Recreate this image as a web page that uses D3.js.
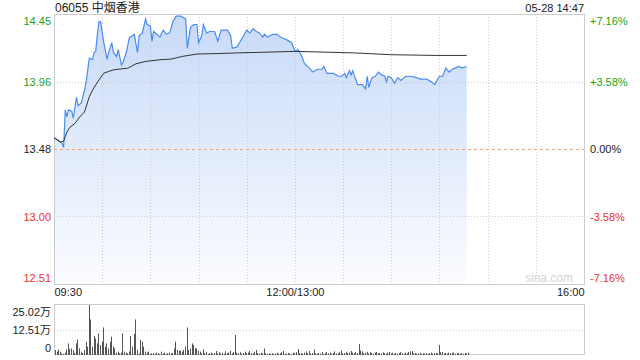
<!DOCTYPE html>
<html>
<head>
<meta charset="utf-8">
<script src="https://cdn.jsdelivr.net/npm/d3@7"></script>
<style>
  body { margin: 0; background: #fff; }
  svg text { font-family: Arial, "Liberation Sans", "Noto Sans CJK SC", sans-serif; }
</style>
</head>
<body>
<svg id="chart"></svg>
<script>
// 06055 中烟香港 intraday, 05-28
const title = '06055 中烟香港';
const stamp = '05-28 14:47';
const prevClose = 13.48;
const maxPct = 0.0716;

const priceTicks = [12.51, 13.00, 13.48, 13.96, 14.45];
const pctTicks = ['-7.16%', '-3.58%', '0.00%', '+3.58%', '+7.16%'];
const timeTicks = [0, 150, 330];
const timeLabels = ['09:30', '12:00/13:00', '16:00'];
const volTicks = [0, 12.51, 25.02];

// price line points (time, price)
const priceTimes = [
  '09:30', '09:33', '09:35', '09:36', '09:37', '09:38', '09:39', '09:41', '09:42', '09:44',
  '09:45', '09:47', '09:49', '09:50', '09:52', '09:54', '09:55', '09:56', '09:57', '09:58',
  '09:59', '10:01', '10:03', '10:04', '10:06', '10:07', '10:09', '10:10', '10:12', '10:13',
  '10:15', '10:17', '10:19', '10:20', '10:22', '10:23', '10:25', '10:27', '10:28', '10:30',
  '10:31', '10:32', '10:34', '10:36', '10:38', '10:40', '10:42', '10:44', '10:46', '10:49',
  '10:52', '10:53', '10:55', '10:57', '10:59', '11:00', '11:02', '11:03', '11:05', '11:07',
  '11:10', '11:12', '11:14', '11:18', '11:20', '11:21', '11:24', '11:26', '11:28', '11:30',
  '11:32', '11:34', '11:36', '11:38', '11:40', '11:41', '11:43', '11:46', '11:49', '11:51',
  '11:53', '11:55', '11:58', '12:00', '13:02', '13:04', '13:06', '13:09', '13:11', '13:14',
  '13:17', '13:18', '13:20', '13:24', '13:27', '13:29', '13:31', '13:32', '13:34', '13:35',
  '13:36', '13:39', '13:42', '13:44', '13:45', '13:46', '13:48', '13:50', '13:52', '13:54',
  '13:56', '13:57', '13:58', '14:00', '14:02', '14:04', '14:06', '14:09', '14:12', '14:16',
  '14:18', '14:22', '14:25', '14:27', '14:28', '14:30', '14:32', '14:34', '14:36', '14:38',
  '14:40', '14:42', '14:44', '14:47'
];
const prices = [
  13.56, 13.54, 13.52, 13.49, 13.76, 13.71, 13.76, 13.75, 13.70, 13.85,
  13.79, 13.81, 13.90, 13.96, 14.13, 14.12, 14.17, 14.18, 14.30, 14.39,
  14.39, 14.24, 14.12, 14.17, 14.24, 14.17, 14.14, 14.19, 14.08, 14.10,
  14.17, 14.28, 14.29, 14.30, 14.17, 14.29, 14.31, 14.41, 14.37, 14.36,
  14.25, 14.32, 14.30, 14.28, 14.33, 14.30, 14.31, 14.39, 14.43, 14.43,
  14.41, 14.20, 14.35, 14.37, 14.37, 14.24, 14.29, 14.37, 14.31, 14.32,
  14.32, 14.25, 14.33, 14.33, 14.29, 14.20, 14.21, 14.25, 14.29, 14.33,
  14.31, 14.34, 14.32, 14.31, 14.28, 14.30, 14.28, 14.30, 14.30, 14.28,
  14.27, 14.26, 14.24, 14.18, 14.19, 14.15, 14.09, 14.06, 14.03, 14.05,
  14.05, 14.07, 14.02, 14.02, 14.00, 14.00, 14.02, 13.99, 14.04, 14.01,
  14.04, 13.94, 13.94, 13.91, 14.00, 13.92, 13.99, 14.00, 14.03, 14.01,
  14.00, 13.96, 14.00, 13.99, 13.95, 13.99, 13.97, 14.00, 14.00, 13.99,
  13.98, 13.98, 13.96, 13.94, 13.96, 14.00, 14.00, 14.06, 14.03, 14.05,
  14.06, 14.07, 14.06, 14.07
];

// average price line
const avgTimes = [
  '09:30', '09:34', '09:36', '09:38', '09:40', '09:43', '09:46', '09:49', '09:52', '09:54',
  '09:58', '10:01', '10:04', '10:07', '10:16', '10:21', '10:27', '10:36', '10:43', '10:50',
  '10:59', '11:11', '11:24', '11:38', '12:00', '13:37', '14:00', '14:28', '14:47'
];
const avgPrices = [
  13.561, 13.529, 13.536, 13.601, 13.637, 13.662, 13.709, 13.745, 13.854, 13.902,
  13.974, 14.022, 14.034, 14.046, 14.058, 14.089, 14.106, 14.118, 14.123, 14.142,
  14.159, 14.162, 14.167, 14.171, 14.178, 14.167, 14.154, 14.149, 14.149
];

// volume per minute from 09:30, in 万
const volumes = [
  2.5, 1.7, 2.8, 1.7, 0.8, 0.5, 1.2, 2.8, 5.8, 3.0,
  3.3, 2.5, 1.0, 5.8, 7.8, 3.3, 1.7, 1.0, 2.5, 6.7,
  4.2, 25.02, 17.8, 4.2, 9.5, 8.3, 5.8, 10.8, 5.0, 6.7,
  13.8, 4.2, 5.8, 3.3, 6.7, 9.2, 4.2, 3.3, 1.2, 1.7,
  0.8, 1.2, 10.8, 1.7, 1.2, 0.8, 1.7, 9.5, 4.2, 10.5,
  17.8, 2.5, 0.8, 7.5, 6.7, 4.2, 1.7, 1.2, 1.7, 0.5,
  0.8, 1.0, 0.5, 1.2, 0.8, 0.5, 1.7, 0.8, 1.2, 0.5,
  0.8, 1.2, 0.8, 1.0, 3.3, 6.7, 2.5, 2.2, 2.2, 1.7,
  2.5, 4.2, 13.8, 2.5, 3.3, 5.8, 5.0, 3.3, 3.3, 2.2,
  1.7, 0.8, 2.8, 1.0, 1.5, 0.5, 0.8, 1.2, 0.6, 1.0,
  2.0, 0.8, 1.5, 0.7, 1.2, 0.6, 1.8, 0.9, 1.3, 2.2,
  0.8, 1.5, 10.0, 1.2, 0.8, 1.4, 0.6, 1.0, 1.7, 0.9,
  1.2, 2.0, 1.0, 0.8, 1.6, 2.5, 1.0, 0.7, 1.2, 0.8,
  3.3, 0.9, 0.5, 0.7, 0.6, 0.9, 0.5, 0.8, 1.2, 0.6,
  0.8, 1.4, 2.0, 0.7, 0.6, 1.0, 0.8, 0.5, 1.2, 0.9,
  1.5, 3.0, 0.8, 1.0, 0.6, 1.2, 1.8, 0.9, 2.0, 0.7,
  1.0, 2.8, 0.8, 0.6, 1.0, 0.7, 1.4, 0.5, 0.9, 1.5,
  0.8, 1.2, 0.6, 1.0, 1.8, 0.7, 0.9, 1.4, 2.2, 0.8,
  1.0, 1.6, 0.9, 1.3, 2.0, 1.2, 0.8, 1.5, 1.0, 5.5,
  2.2, 1.8, 0.9, 1.2, 1.6, 0.8, 1.4, 1.0, 0.6, 1.2,
  1.5, 0.8, 1.0, 0.7, 1.3, 0.9, 0.6, 1.1, 1.6, 0.8,
  1.2, 0.7, 1.0, 0.6, 0.9, 1.4, 0.8, 0.6, 1.2, 0.9,
  1.5, 1.8, 2.0, 0.8, 1.0, 0.6, 0.8, 1.2, 0.5, 0.9,
  0.7, 1.0, 0.6, 0.8, 1.2, 0.7, 0.9, 1.0, 0.8, 5.0,
  1.4, 1.6, 0.8, 1.0, 0.7, 1.2, 0.9, 1.0, 1.3, 0.6,
  0.8, 1.0, 0.7, 0.9, 0.6, 1.0, 0.8, 1.2
];

// trading minutes since 09:30, lunch break skipped
function toIdx(s) {
  const [h, m] = s.split(':').map(Number);
  const mins = h * 60 + m;
  return mins <= 720 ? mins - 570 : mins - 780 + 150;
}

const width = 640;
const height = 360;
const plot = { left: 54, right: 584, top: 14, bottom: 284 };
const volBox = { top: 305, bottom: 355 };

const green = '#1aa31a';
const red = '#f03030';
const grey = '#cccccc';

const svg = d3.select('#chart')
  .attr('width', width)
  .attr('height', height);

const x = d3.scaleLinear()
  .domain([0, 330])
  .range([plot.left, plot.right]);

const y = d3.scaleLinear()
  .domain([prevClose * (1 - maxPct), prevClose * (1 + maxPct)])
  .range([plot.bottom, plot.top]);

const yVol = d3.scaleLinear()
  .domain([0, 25.02])
  .range([volBox.bottom, volBox.top]);

// gradient for the area
const grad = svg.append('defs').append('linearGradient')
  .attr('id', 'fillGrad')
  .attr('x1', 0).attr('y1', 0).attr('x2', 0).attr('y2', 1);
grad.append('stop').attr('offset', '0%').attr('stop-color', '#c8daf8');
grad.append('stop').attr('offset', '100%').attr('stop-color', '#fbfcff');

const priceData = priceTimes.map((t, i) => ({ t: toIdx(t), p: prices[i] }));
const avgData = avgTimes.map((t, i) => ({ t: toIdx(t), p: avgPrices[i] }));

// area first, grid drawn over it
svg.append('path')
  .datum(priceData)
  .attr('fill', 'url(#fillGrad)')
  .attr('d', d3.area()
    .x((d) => x(d.t))
    .y0(plot.bottom)
    .y1((d) => y(d.p)));

svg.append('rect')
  .attr('x', plot.left + 0.5).attr('y', plot.top + 0.5)
  .attr('width', plot.right - plot.left).attr('height', plot.bottom - plot.top)
  .attr('fill', 'none').attr('stroke', grey);

const vLines = d3.range(30, 330, 30);
svg.append('g').selectAll('line')
  .data(vLines)
  .join('line')
  .attr('x1', (d) => Math.round(x(d)) + 0.5)
  .attr('x2', (d) => Math.round(x(d)) + 0.5)
  .attr('y1', plot.top)
  .attr('y2', plot.bottom)
  .attr('stroke', grey)
  .attr('stroke-dasharray', '1,2');

svg.append('g').selectAll('line')
  .data([13.00, 13.96])
  .join('line')
  .attr('x1', plot.left)
  .attr('x2', plot.right)
  .attr('y1', (d) => Math.round(y(d)) + 0.5)
  .attr('y2', (d) => Math.round(y(d)) + 0.5)
  .attr('stroke', grey)
  .attr('stroke-dasharray', '1,2');

// prev close line
svg.append('line')
  .attr('x1', plot.left).attr('x2', plot.right)
  .attr('y1', Math.round(y(prevClose)) + 0.5)
  .attr('y2', Math.round(y(prevClose)) + 0.5)
  .attr('stroke', '#f0a27c')
  .attr('stroke-dasharray', '3,3');

// watermark
svg.append('text')
  .attr('x', 573).attr('y', 282)
  .attr('text-anchor', 'end')
  .attr('font-size', 12)
  .attr('fill', '#d4d4d4')
  .text('sina.com');

svg.append('path')
  .datum(priceData)
  .attr('fill', 'none')
  .attr('stroke', '#4a8cf0')
  .attr('stroke-width', 1.2)
  .attr('d', d3.line()
    .x((d) => x(d.t))
    .y((d) => y(d.p)));

svg.append('path')
  .datum(avgData)
  .attr('fill', 'none')
  .attr('stroke', '#333')
  .attr('stroke-width', 1)
  .attr('d', d3.line()
    .x((d) => x(d.t))
    .y((d) => y(d.p)));

// axes
const tickColor = (v) => (v > prevClose + 0.001 ? green : v < prevClose - 0.001 ? red : '#222');
const tickPos = priceTicks.map((v, i) => prevClose * (1 + maxPct * (i - 2) / 2));

const yAxisL = svg.append('g')
  .attr('transform', `translate(${plot.left},0)`)
  .call(d3.axisLeft(y)
    .tickValues(tickPos)
    .tickSize(0)
    .tickPadding(3)
    .tickFormat((d, i) => priceTicks[i].toFixed(2)));

const yAxisR = svg.append('g')
  .attr('transform', `translate(${plot.right},0)`)
  .call(d3.axisRight(y)
    .tickValues(tickPos)
    .tickSize(0)
    .tickPadding(6)
    .tickFormat((d, i) => pctTicks[i]));

[yAxisL, yAxisR].forEach((g) => {
  g.select('.domain').remove();
  g.selectAll('text')
    .attr('font-size', 11)
    .attr('fill', (d, i) => tickColor(priceTicks[i]))
    .attr('transform', (d, i) => (i === 0 ? 'translate(0,-6)' : i === 4 ? 'translate(0,7)' : null));
});

const xAxis = svg.append('g')
  .attr('transform', `translate(0,${plot.bottom})`)
  .call(d3.axisBottom(x)
    .tickValues(timeTicks)
    .tickSize(0)
    .tickPadding(4)
    .tickFormat((d, i) => timeLabels[i]));
xAxis.select('.domain').remove();
xAxis.selectAll('text')
  .attr('font-size', 11)
  .attr('fill', '#222')
  .attr('text-anchor', (d, i) => (i === 0 ? 'start' : i === 2 ? 'end' : 'middle'));

// volume panel
svg.append('rect')
  .attr('x', plot.left + 0.5).attr('y', volBox.top - 0.5)
  .attr('width', plot.right - plot.left).attr('height', volBox.bottom - volBox.top)
  .attr('fill', 'none').attr('stroke', grey);

svg.append('line')
  .attr('x1', plot.left).attr('x2', plot.right)
  .attr('y1', Math.round(yVol(12.51)) + 0.5)
  .attr('y2', Math.round(yVol(12.51)) + 0.5)
  .attr('stroke', grey)
  .attr('stroke-dasharray', '1,2');

svg.append('g').selectAll('line')
  .data(volumes)
  .join('line')
  .attr('x1', (d, i) => Math.round(x(i)) + 1.5)
  .attr('x2', (d, i) => Math.round(x(i)) + 1.5)
  .attr('y1', yVol(0))
  .attr('y2', (d) => yVol(d))
  .attr('stroke', '#555')
  .attr('stroke-width', 1);

const volAxis = svg.append('g')
  .attr('transform', `translate(${plot.left},0)`)
  .call(d3.axisLeft(yVol)
    .tickValues(volTicks)
    .tickSize(0)
    .tickPadding(3)
    .tickFormat((d) => (d === 0 ? '0' : `${d.toFixed(2)}万`)));
volAxis.select('.domain').remove();
volAxis.selectAll('text')
  .attr('font-size', 11)
  .attr('fill', '#222')
  .attr('transform', (d, i) => (i === 0 ? 'translate(0,-7)' : i === 2 ? 'translate(0,7)' : null));

// header
svg.append('text')
  .attr('x', plot.left + 1).attr('y', 12)
  .attr('font-size', 12)
  .attr('fill', '#222')
  .text(title);

svg.append('text')
  .attr('x', plot.right).attr('y', 12)
  .attr('text-anchor', 'end')
  .attr('font-size', 11)
  .attr('fill', '#222')
  .text(stamp);
</script>
</body>
</html>
